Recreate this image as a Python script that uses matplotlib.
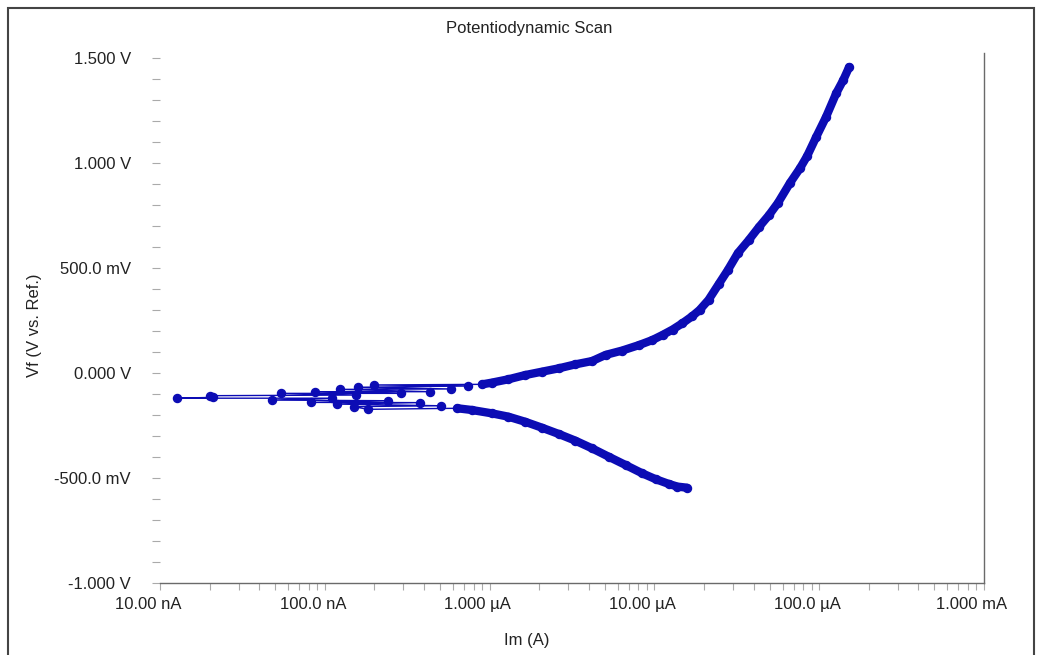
import matplotlib
matplotlib.use("Agg")
import matplotlib.pyplot as plt
import matplotlib.transforms as mtransforms
from matplotlib.patches import Rectangle
from matplotlib.ticker import MultipleLocator, LogLocator, NullFormatter
import numpy as np

plt.rcParams['font.family'] = ['Liberation Sans', 'DejaVu Sans']

# cathodic branch (scan start, most negative potential first)
cath_i = [1.57e-5, 1.38e-5, 1.23e-5, 1.02e-5, 8.45e-6, 6.68e-6, 5.29e-6, 4.19e-6,
          3.31e-6, 2.62e-6, 2.07e-6, 1.64e-6, 1.30e-6, 1.03e-6, 7.77e-7, 6.38e-7]
cath_v = [-0.546, -0.541, -0.529, -0.506, -0.478, -0.438, -0.399, -0.359,
          -0.322, -0.290, -0.260, -0.232, -0.208, -0.192, -0.176, -0.168]

# noisy points around the corrosion potential
noise_i = [1.82e-7, 1.50e-7, 5.05e-7, 1.18e-7, 3.76e-7, 8.21e-8, 2.41e-7, 4.80e-8,
           1.10e-7, 1.27e-8, 2.10e-8, 2.02e-8, 1.55e-7, 5.39e-8, 2.91e-7, 8.69e-8,
           4.33e-7, 1.23e-7, 5.81e-7, 1.58e-7, 7.41e-7, 2.00e-7]
noise_v = [-0.173, -0.160, -0.156, -0.148, -0.141, -0.140, -0.132, -0.129,
           -0.120, -0.120, -0.116, -0.108, -0.105, -0.097, -0.097, -0.089,
           -0.089, -0.078, -0.076, -0.068, -0.062, -0.057]

# anodic branch
anod_i = [9.03e-7, 1.03e-6, 1.30e-6, 1.64e-6, 2.07e-6, 2.62e-6, 3.31e-6, 4.19e-6,
          5.05e-6, 6.38e-6, 8.07e-6, 9.72e-6, 1.12e-5, 1.29e-5, 1.48e-5, 1.70e-5,
          1.88e-5, 2.13e-5, 2.46e-5, 2.79e-5, 3.21e-5, 3.74e-5, 4.31e-5, 4.96e-5,
          5.62e-5, 6.65e-5, 7.66e-5, 8.45e-5, 9.59e-5, 1.10e-4, 1.27e-4, 1.40e-4,
          1.52e-4]
anod_v = [-0.054, -0.046, -0.030, -0.010, 0.006, 0.022, 0.041, 0.057,
          0.086, 0.107, 0.133, 0.157, 0.181, 0.207, 0.237, 0.271,
          0.300, 0.348, 0.424, 0.490, 0.571, 0.633, 0.695, 0.752,
          0.810, 0.905, 0.976, 1.033, 1.124, 1.219, 1.333, 1.395,
          1.457]

yticks = [-1.0, -0.5, 0.0, 0.5, 1.0, 1.5]
ylabels = ["-1.000 V", "-500.0 mV", "0.000 V", "500.0 mV", "1.000 V", "1.500 V"]
xticks = [1e-8, 1e-7, 1e-6, 1e-5, 1e-4, 1e-3]
xlabels = ["10.00 nA", "100.0 nA", "1.000 \u00b5A", "10.00 \u00b5A", "100.0 \u00b5A", "1.000 mA"]

blue = '#0c0cb4'
W, H = 1039, 655
fig = plt.figure(figsize=(W / 100, H / 100), dpi=100)
ax = fig.add_axes([160 / W, (H - 583) / H, 824 / W, 530.25 / H])

all_i = cath_i + noise_i + anod_i
all_v = cath_v + noise_v + anod_v
ax.plot(all_i, all_v, '-', color=blue, lw=1.0, marker='o', ms=5.8, zorder=3)
# dense sampling of the two branches
ax.plot(cath_i, cath_v, '-', color=blue, lw=6.0, solid_capstyle='round', zorder=2)
ax.plot(anod_i, anod_v, '-', color=blue, lw=6.0, solid_capstyle='round', zorder=2)

ax.set_xscale('log')
ax.set_xlim(1e-8, 1e-3)
ax.set_ylim(-1.0, 1.525)

for s in ['left', 'top']:
    ax.spines[s].set_visible(False)
for s in ['bottom', 'right']:
    ax.spines[s].set_color('#6a6a6a')
    ax.spines[s].set_linewidth(1.0)

ax.set_yticks(yticks)
ax.set_yticklabels(ylabels)
ax.yaxis.set_minor_locator(MultipleLocator(0.1))
ax.tick_params(axis='y', which='both', length=6, width=0.8, color='#aaaaaa',
               pad=15, labelsize=12, labelcolor='#222222')

ax.set_xticks(xticks)
ax.set_xticklabels(xlabels)
ax.xaxis.set_minor_locator(LogLocator(base=10, subs=np.arange(2, 10)))
ax.xaxis.set_minor_formatter(NullFormatter())
ax.tick_params(axis='x', which='both', length=5, width=0.8, color='#aaaaaa',
               pad=5, labelsize=12, labelcolor='#222222')
shift = mtransforms.ScaledTranslation(-0.12, 0, fig.dpi_scale_trans)
for lab in ax.get_xticklabels():
    lab.set_transform(lab.get_transform() + shift)

fig.text(529 / W, 1 - 28 / H, "Potentiodynamic Scan", ha='center', va='center',
         fontsize=12, color='#222222')
fig.text(527 / W, 1 - 640 / H, "Im (A)", ha='center', va='center',
         fontsize=12, color='#222222')
fig.text(34 / W, 1 - 325 / H, "Vf (V vs. Ref.)", ha='center', va='center',
         rotation=90, fontsize=12, color='#222222')

fig.add_artist(Rectangle((8 / W, -0.05), 1026 / W, 1 - 8 / H + 0.05,
                         transform=fig.transFigure, fill=False,
                         edgecolor='#444444', lw=1.5))

fig.savefig('out.png', dpi=100)
